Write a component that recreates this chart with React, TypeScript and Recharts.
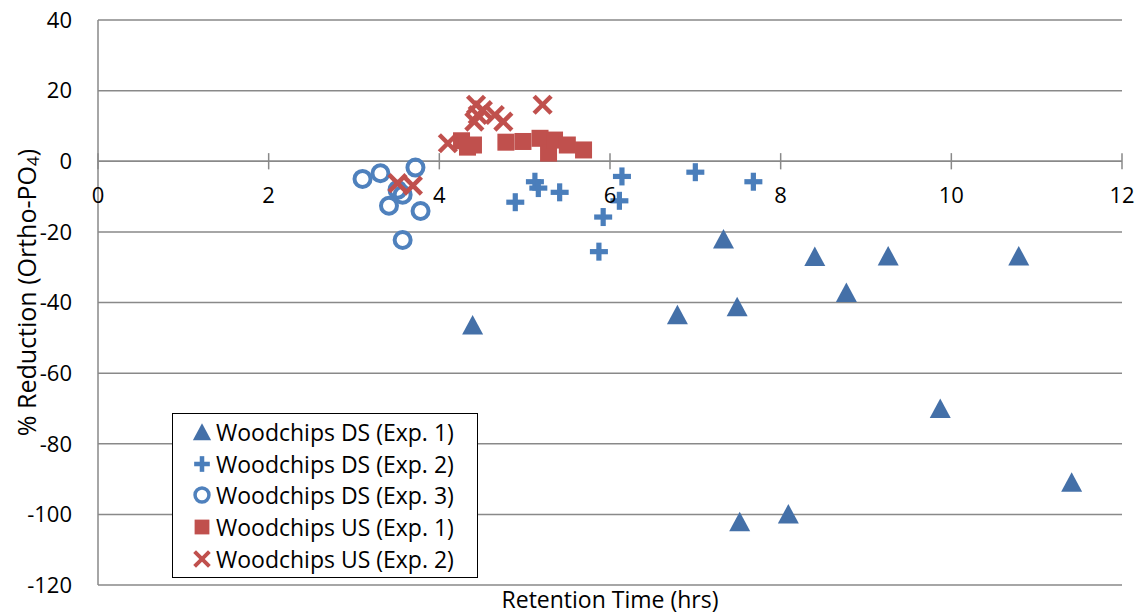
import React from 'react';
import {
  ScatterChart, Scatter, XAxis, YAxis, CartesianGrid, ReferenceLine, ReferenceDot, Legend,
} from 'recharts';

const FONT = '"Open Sans", Lato, sans-serif';

const xTicks = [0, 2, 4, 6, 8, 10, 12];
const yTicks = [-120, -100, -80, -60, -40, -20, 0, 20, 40];

const dsExp1X = [4.39, 6.79, 7.33, 7.49, 8.40, 8.77, 9.26, 10.79, 9.87, 7.52, 8.09, 11.41];
const dsExp1Y = [-46.4, -43.5, -22.0, -41.2, -27.0, -37.2, -26.8, -26.8, -70.0, -102.1, -99.9, -90.9];

const dsExp2X = [4.89, 5.12, 5.16, 5.41, 6.14, 6.11, 5.92, 5.87, 7.00, 7.68];
const dsExp2Y = [-11.6, -5.8, -7.6, -8.8, -4.3, -11.2, -15.8, -25.6, -3.1, -5.8];

const dsExp3X = [3.10, 3.31, 3.72, 3.51, 3.57, 3.41, 3.78, 3.57];
const dsExp3Y = [-5.0, -3.4, -1.8, -8.1, -9.5, -12.6, -14.1, -22.3];

const usExp1X = [4.26, 4.33, 4.40, 4.78, 4.98, 5.18, 5.28, 5.35, 5.50, 5.69];
const usExp1Y = [5.8, 4.0, 4.6, 5.4, 5.6, 6.5, 2.3, 6.0, 4.6, 3.2];

const usExp2X = [4.10, 4.43, 4.45, 4.41, 4.51, 4.65, 4.75, 5.21, 3.51, 3.69];
const usExp2Y = [5.1, 16.0, 13.1, 11.2, 14.5, 13.1, 11.2, 16.0, -6.2, -6.9];

const seriesNames = [
  'Woodchips DS (Exp. 1)',
  'Woodchips DS (Exp. 2)',
  'Woodchips DS (Exp. 3)',
  'Woodchips US (Exp. 1)',
  'Woodchips US (Exp. 2)',
];

const toPoints = (xs: number[], ys: number[]) => xs.map((x, i) => ({ x, y: ys[i] }));

const TRI = '#4470A8';
const PLUS = '#4A7EBB';
const CIRC = '#4F81BD';
const RED = '#C0504D';
const GRID = '#898989';

const Triangle = ({ cx, cy, s = 1 }: any) => (
  <polygon
    points={`${cx},${cy - 10 * s} ${cx + 10.5 * s},${cy + 9.5 * s} ${cx - 10.5 * s},${cy + 9.5 * s}`}
    fill={TRI}
  />
);
const Plus = ({ cx, cy, s = 1 }: any) => (
  <g fill={PLUS}>
    <rect x={cx - 9 * s} y={cy - 2.6 * s} width={18 * s} height={5.2 * s} />
    <rect x={cx - 2.6 * s} y={cy - 9 * s} width={5.2 * s} height={18 * s} />
  </g>
);
const Ring = ({ cx, cy, s = 1 }: any) => (
  <circle cx={cx} cy={cy} r={8 * s} fill="none" stroke={CIRC} strokeWidth={4 * s} />
);
const Square = ({ cx, cy, s = 1 }: any) => (
  <rect x={cx - 8.5 * s} y={cy - 8.5 * s} width={17 * s} height={17 * s} fill={RED} />
);
const Cross = ({ cx, cy, s = 1 }: any) => (
  <g stroke={RED} strokeWidth={4.5 * s}>
    <line x1={cx - 8.5 * s} y1={cy - 8.5 * s} x2={cx + 8.5 * s} y2={cy + 8.5 * s} />
    <line x1={cx - 8.5 * s} y1={cy + 8.5 * s} x2={cx + 8.5 * s} y2={cy - 8.5 * s} />
  </g>
);

const markers = [Triangle, Plus, Ring, Square, Cross];

const LegendBox = () => (
  <div
    style={{
      boxSizing: 'border-box',
      width: 306,
      height: 165,
      border: '1.5px solid #000',
      background: '#fff',
      paddingTop: 2,
      fontFamily: FONT,
      fontSize: 23,
      color: '#000',
    }}
  >
    {seriesNames.map((name, i) => {
      const M = markers[i];
      return (
        <div key={name} style={{ height: 31.7, display: 'flex', alignItems: 'center', whiteSpace: 'nowrap' }}>
          <svg width={43} height={30} style={{ flex: 'none' }}>
            <M cx={29} cy={15} s={0.87} />
          </svg>
          <span>{name}</span>
        </div>
      );
    })}
  </div>
);

const YLabel = (props: any) => {
  const vb = props.viewBox || { x: 0, y: 20, width: 98, height: 565 };
  const x = vb.x + 26;
  const y = vb.y + vb.height / 2 - 10;
  return (
    <text
      x={x}
      y={y}
      transform={`rotate(-90, ${x}, ${y})`}
      textAnchor="middle"
      dominantBaseline="central"
      fontFamily={FONT}
      fontSize={25}
      fill="#000"
    >
      % Reduction (Ortho-PO
      <tspan dy={6} fontSize={17}>4</tspan>
      <tspan dy={-6}>)</tspan>
    </text>
  );
};

export default function App() {
  return (
    <div style={{ position: 'absolute', left: 0, top: 0, width: 1145, height: 615, background: '#fff' }}>
      <ScatterChart width={1145} height={615} margin={{ top: 20, right: 23, bottom: 0, left: 0 }}>
        <CartesianGrid horizontal vertical={false} stroke={GRID} strokeWidth={1.5} />
        <XAxis
          type="number"
          dataKey="x"
          domain={[0, 12]}
          ticks={xTicks}
          height={30}
          axisLine={false}
          tickLine={false}
          tick={false}
          label={{ value: 'Retention Time (hrs)', position: 'center', fontSize: 23, fill: '#000', fontFamily: FONT }}
        />
        <YAxis
          type="number"
          dataKey="y"
          domain={[-120, 40]}
          ticks={yTicks}
          width={98}
          axisLine={{ stroke: GRID, strokeWidth: 1.5 }}
          tickLine={false}
          tickMargin={20}
          tick={{ fontSize: 22, fill: '#000', fontFamily: FONT }}
          label={{ content: YLabel }}
        />
        <ReferenceLine y={0} stroke={GRID} strokeWidth={1.5} />
        {xTicks.map((t) => (
          <ReferenceLine
            key={'tk' + t}
            segment={[{ x: t, y: -2.3 }, { x: t, y: 2.3 }]}
            stroke={GRID}
            strokeWidth={1.5}
          />
        ))}
        {xTicks.map((t) => (
          <ReferenceDot
            key={'tl' + t}
            x={t}
            y={0}
            r={0}
            fill="none"
            stroke="none"
            label={{ value: String(t), position: 'bottom', offset: 26, fontSize: 22, fill: '#000', fontFamily: FONT }}
          />
        ))}
        <Scatter name={seriesNames[0]} data={toPoints(dsExp1X, dsExp1Y)} isAnimationActive={false} shape={(p: any) => <Triangle cx={p.cx} cy={p.cy} />} />
        <Scatter name={seriesNames[1]} data={toPoints(dsExp2X, dsExp2Y)} isAnimationActive={false} shape={(p: any) => <Plus cx={p.cx} cy={p.cy} />} />
        <Scatter name={seriesNames[2]} data={toPoints(dsExp3X, dsExp3Y)} isAnimationActive={false} shape={(p: any) => <Ring cx={p.cx} cy={p.cy} />} />
        <Scatter name={seriesNames[3]} data={toPoints(usExp1X, usExp1Y)} isAnimationActive={false} shape={(p: any) => <Square cx={p.cx} cy={p.cy} />} />
        <Scatter name={seriesNames[4]} data={toPoints(usExp2X, usExp2Y)} isAnimationActive={false} shape={(p: any) => <Cross cx={p.cx} cy={p.cy} />} />
        <Legend
          layout="vertical"
          align="center"
          verticalAlign="middle"
          content={() => <LegendBox />}
          wrapperStyle={{ position: 'absolute', left: 172, top: 413, width: 306, height: 165 }}
        />
      </ScatterChart>
    </div>
  );
}
